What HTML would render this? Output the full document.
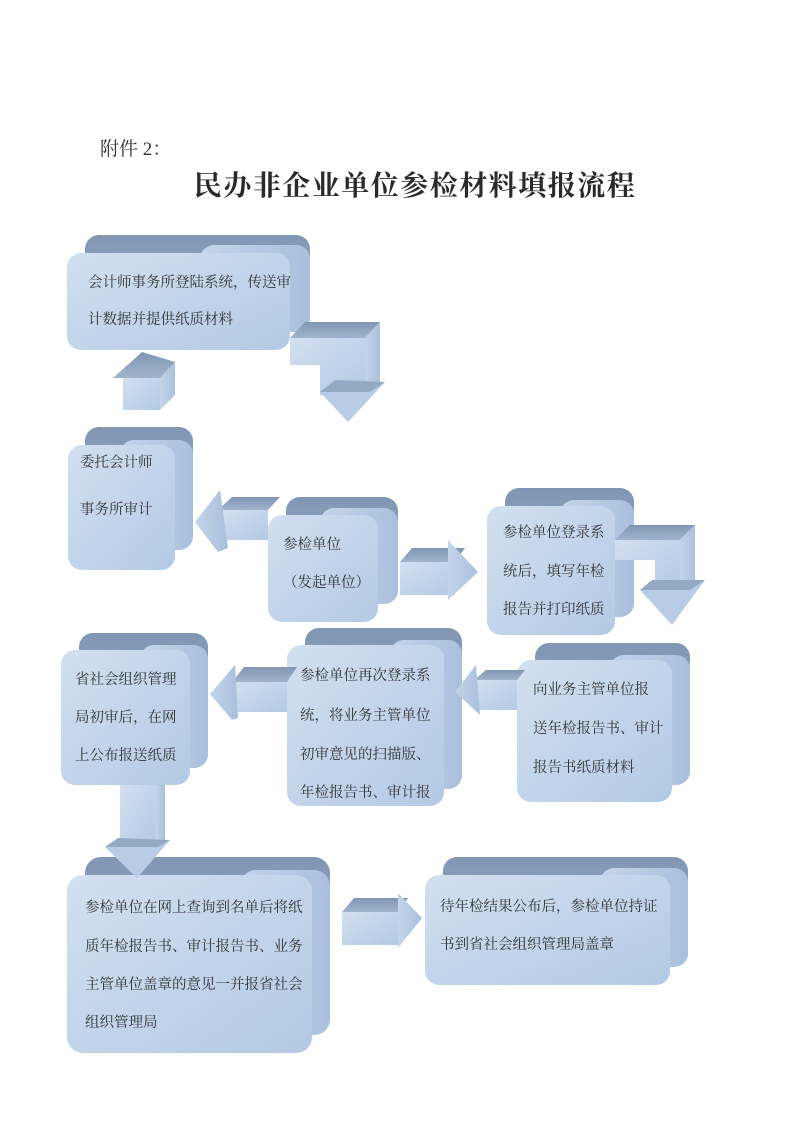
<!DOCTYPE html>
<html><head><meta charset="utf-8">
<style>
body{margin:0;background:#fff;}
#p{position:relative;width:800px;height:1127px;overflow:hidden;background:#fff;font-family:"Liberation Serif","Noto Serif CJK SC","Noto Sans CJK SC",serif;color:#333;}
.t{position:absolute;font-size:14.5px;white-space:nowrap;line-height:20px;}
.ti{position:absolute;left:193px;top:169px;font-size:28px;line-height:36px;font-weight:bold;color:#2a2a2a;white-space:nowrap;}
.ti span{display:inline-block;width:29.5px;text-align:center;}
svg{position:absolute;left:0;top:0;}
</style></head><body><div id="p">
<svg width="800" height="1127">
<defs>
<linearGradient id="f" x1="0" y1="0" x2="1" y2="1"><stop offset="0" stop-color="#d2e0f0"/><stop offset="1" stop-color="#b3c9e4"/></linearGradient>
<linearGradient id="s" x1="0" y1="0" x2="1" y2="0"><stop offset="0" stop-color="#c4d5ea"/><stop offset="1" stop-color="#a9bfdc"/></linearGradient>
<linearGradient id="tp" x1="0" y1="0" x2="0" y2="1"><stop offset="0" stop-color="#8096b3"/><stop offset="1" stop-color="#a0b3cc"/></linearGradient>
</defs>
<g>
<rect x="85" y="235" width="225" height="97" rx="14" fill="url(#tp)"/>
<rect x="200" y="245" width="110" height="87" rx="14" fill="url(#s)"/>
<rect x="67" y="253" width="223" height="97" rx="14" fill="url(#f)"/>
</g>
<g>
<rect x="85" y="427" width="108" height="123" rx="14" fill="url(#tp)"/>
<rect x="120" y="440" width="73" height="110" rx="14" fill="url(#s)"/>
<rect x="68" y="445" width="107" height="125" rx="14" fill="url(#f)"/>
</g>
<g>
<rect x="286" y="497" width="112" height="107" rx="14" fill="url(#tp)"/>
<rect x="320" y="508" width="78" height="96" rx="14" fill="url(#s)"/>
<rect x="268" y="515" width="110" height="107" rx="14" fill="url(#f)"/>
</g>
<g>
<rect x="505" y="488" width="129" height="129" rx="14" fill="url(#tp)"/>
<rect x="560" y="500" width="74" height="117" rx="14" fill="url(#s)"/>
<rect x="487" y="506" width="128" height="129" rx="14" fill="url(#f)"/>
</g>
<g>
<rect x="79" y="633" width="129" height="135" rx="14" fill="url(#tp)"/>
<rect x="140" y="645" width="68" height="123" rx="14" fill="url(#s)"/>
<rect x="61" y="650" width="129" height="135" rx="14" fill="url(#f)"/>
</g>
<g>
<rect x="305" y="628" width="157" height="161" rx="14" fill="url(#tp)"/>
<rect x="390" y="640" width="72" height="149" rx="14" fill="url(#s)"/>
<rect x="287" y="645" width="157" height="161" rx="14" fill="url(#f)"/>
</g>
<g>
<rect x="535" y="643" width="155" height="142" rx="14" fill="url(#tp)"/>
<rect x="610" y="655" width="80" height="130" rx="14" fill="url(#s)"/>
<rect x="517" y="660" width="155" height="142" rx="14" fill="url(#f)"/>
</g>
<g>
<rect x="85" y="857" width="245" height="178" rx="16" fill="url(#tp)"/>
<rect x="240" y="870" width="90" height="165" rx="16" fill="url(#s)"/>
<rect x="67" y="875" width="245" height="178" rx="16" fill="url(#f)"/>
</g>
<g>
<rect x="443" y="857" width="245" height="110" rx="14" fill="url(#tp)"/>
<rect x="600" y="868" width="88" height="99" rx="14" fill="url(#s)"/>
<rect x="425" y="875" width="245" height="110" rx="14" fill="url(#f)"/>
</g>
<polygon points="123,378 160,378 160,410 123,410" fill="url(#f)"/>
<polygon points="113,378 142,352 175,362 160,378" fill="url(#tp)"/>
<polygon points="160,378 175,362 175,395 160,410" fill="url(#s)"/>
<polygon points="290,338 365,338 365,395 320,395 320,365 290,365" fill="url(#f)"/>
<polygon points="290,338 305,322 380,322 365,338" fill="url(#tp)"/>
<polygon points="365,338 380,322 380,382 365,395" fill="url(#s)"/>
<polygon points="320,392 385,382 348,422" fill="#b8cce6"/>
<polygon points="320,392 335,380 385,382 370,392" fill="#93a8c3"/>
<polygon points="218,510 268,510 268,540 218,540" fill="url(#f)"/>
<polygon points="218,510 232,497 280,497 268,510" fill="url(#tp)"/>
<polygon points="195,522 220,490 228,548 218,552" fill="url(#s)"/>
<polygon points="400,562 455,562 455,595 400,595" fill="url(#f)"/>
<polygon points="400,562 412,548 465,548 455,562" fill="url(#tp)"/>
<polygon points="448,540 478,572 448,600" fill="url(#s)"/>
<polygon points="615,540 680,540 680,590 655,590 655,560 615,560" fill="url(#f)"/>
<polygon points="615,540 630,525 695,525 680,540" fill="url(#tp)"/>
<polygon points="680,540 695,525 695,582 680,590" fill="url(#s)"/>
<polygon points="640,590 705,580 672,625" fill="#b8cce6"/>
<polygon points="640,590 652,580 705,580 690,590" fill="#93a8c3"/>
<polygon points="232,682 287,682 287,712 232,712" fill="url(#f)"/>
<polygon points="232,682 244,667 297,667 287,682" fill="url(#tp)"/>
<polygon points="210,694 235,665 238,718 232,720" fill="url(#s)"/>
<polygon points="474,680 517,680 517,710 474,710" fill="url(#f)"/>
<polygon points="474,680 486,670 525,670 517,680" fill="url(#tp)"/>
<polygon points="455,692 476,665 480,715" fill="url(#s)"/>
<polygon points="120,785 155,785 155,845 120,845" fill="url(#f)"/>
<polygon points="155,785 165,785 165,840 155,845" fill="url(#s)"/>
<polygon points="105,847 170,840 137,878" fill="#b8cce6"/>
<polygon points="105,847 118,838 170,840 158,847" fill="#93a8c3"/>
<polygon points="342,912 398,912 398,945 342,945" fill="url(#f)"/>
<polygon points="342,912 354,898 408,898 398,912" fill="url(#tp)"/>
<polygon points="398,893 422,918 398,948" fill="url(#s)"/>
</svg>
<div class="t" style="left:100px;top:140px;font-size:19px;">附件 2：</div>
<div class="ti"><span>民</span><span>办</span><span>非</span><span>企</span><span>业</span><span>单</span><span>位</span><span>参</span><span>检</span><span>材</span><span>料</span><span>填</span><span>报</span><span>流</span><span>程</span></div>

<div class="t" style="left:88px;top:273px;">会计师事务所登陆系统，传送审</div>
<div class="t" style="left:88px;top:310px;">计数据并提供纸质材料</div>

<div class="t" style="left:80px;top:453px;">委托会计师</div>
<div class="t" style="left:80px;top:500px;">事务所审计</div>

<div class="t" style="left:283px;top:535px;">参检单位</div>
<div class="t" style="left:283px;top:573px;">（发起单位）</div>

<div class="t" style="left:503px;top:523px;">参检单位登录系</div>
<div class="t" style="left:503px;top:562px;">统后，填写年检</div>
<div class="t" style="left:503px;top:600px;">报告并打印纸质</div>

<div class="t" style="left:75px;top:670px;">省社会组织管理</div>
<div class="t" style="left:75px;top:708px;">局初审后，在网</div>
<div class="t" style="left:75px;top:746px;">上公布报送纸质</div>

<div class="t" style="left:300px;top:666px;">参检单位再次登录系</div>
<div class="t" style="left:300px;top:706px;">统，将业务主管单位</div>
<div class="t" style="left:300px;top:745px;">初审意见的扫描版、</div>
<div class="t" style="left:300px;top:783px;">年检报告书、审计报</div>

<div class="t" style="left:533px;top:680px;">向业务主管单位报</div>
<div class="t" style="left:533px;top:719px;">送年检报告书、审计</div>
<div class="t" style="left:533px;top:758px;">报告书纸质材料</div>

<div class="t" style="left:85px;top:898px;">参检单位在网上查询到名单后将纸</div>
<div class="t" style="left:85px;top:937px;">质年检报告书、审计报告书、业务</div>
<div class="t" style="left:85px;top:975px;">主管单位盖章的意见一并报省社会</div>
<div class="t" style="left:85px;top:1013px;">组织管理局</div>

<div class="t" style="left:440px;top:897px;">待年检结果公布后，参检单位持证</div>
<div class="t" style="left:440px;top:935px;">书到省社会组织管理局盖章</div>
</div></body></html>
